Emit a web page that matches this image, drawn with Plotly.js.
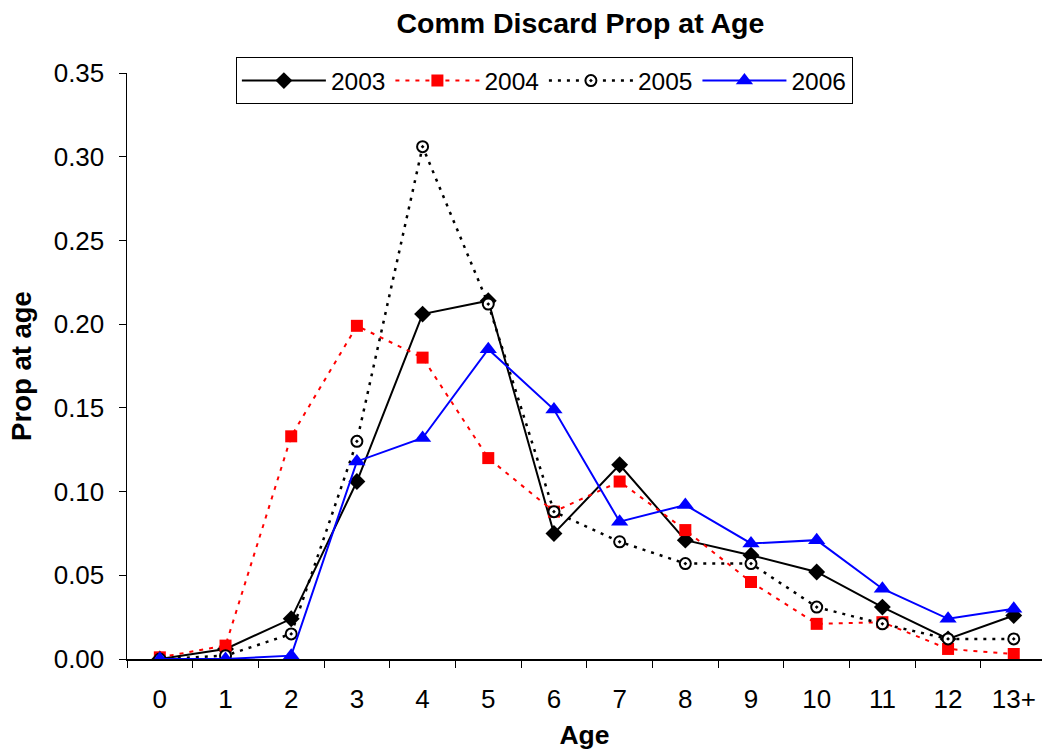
<!DOCTYPE html>
<html>
<head>
<meta charset="utf-8">
<script src="https://cdn.plot.ly/plotly-3.0.1.min.js"></script>
<style>html,body{margin:0;padding:0;background:#fff;}#chart{width:1042px;height:753px;}</style>
</head>
<body>
<div id="chart"></div>
<script>
const ages = ["0","1","2","3","4","5","6","7","8","9","10","11","12","13+"];
const s2003 = [0.000, 0.006, 0.024, 0.106, 0.206, 0.214, 0.075, 0.116, 0.071, 0.062, 0.052, 0.031, 0.012, 0.026];
const s2004 = [0.001, 0.008, 0.133, 0.199, 0.180, 0.120, 0.088, 0.106, 0.077, 0.046, 0.021, 0.022, 0.006, 0.003];
const s2005 = [0.000, 0.002, 0.015, 0.130, 0.306, 0.212, 0.088, 0.070, 0.057, 0.057, 0.031, 0.021, 0.012, 0.012];
const s2006 = [0.000, 0.000, 0.002, 0.118, 0.132, 0.185, 0.149, 0.082, 0.092, 0.069, 0.071, 0.042, 0.024, 0.030];
const seriesNames = ["2003", "2004", "2005", "2006"];

const FONT = "Liberation Sans, Arial, sans-serif";
const traces = [
  {x: ages, y: s2003, name: seriesNames[0], type: "scatter", mode: "lines+markers",
   line: {color: "#000000", width: 2, dash: "solid"},
   marker: {symbol: "diamond", size: 13, color: "#000000"}},
  {x: ages, y: s2004, name: seriesNames[1], type: "scatter", mode: "lines+markers",
   line: {color: "#ff0000", width: 2, dash: "4px,6px"},
   marker: {symbol: "square", size: 12, color: "#ff0000"}},
  {x: ages, y: s2005, name: seriesNames[2], type: "scatter", mode: "lines+markers",
   line: {color: "#000000", width: 2.5, dash: "3px,6px"},
   marker: {symbol: "circle-dot", size: 11, color: "#ffffff", line: {color: "#000000", width: 2}}},
  {x: ages, y: s2006, name: seriesNames[3], type: "scatter", mode: "lines+markers",
   line: {color: "#0000ff", width: 2, dash: "solid"},
   marker: {symbol: "triangle-up", size: 15, color: "#0000ff"}}
];

const layout = {
  width: 1042, height: 753,
  paper_bgcolor: "#ffffff", plot_bgcolor: "#ffffff",
  margin: {l: 127, r: 0, t: 73, b: 94, pad: 0},
  font: {family: FONT, size: 24, color: "#000000"},
  title: {text: "<b>Comm Discard Prop at Age</b>", font: {family: FONT, size: 28.5, color: "#000"},
          x: 0.557, xanchor: "center", y: 0.97, yanchor: "middle"},
  showlegend: true,
  legend: {orientation: "h", x: 0.119, xanchor: "left", y: 1.027, yanchor: "top",
           bgcolor: "#ffffff", bordercolor: "#000000", borderwidth: 1,
           font: {family: FONT, size: 24.5, color: "#000"}, itemwidth: 84,
           traceorder: "normal", tracegroupgap: 0},
  xaxis: {type: "category", range: [-0.5, 13.43], showgrid: false, zeroline: false,
          showline: true, linecolor: "#000", linewidth: 1.5,
          ticks: "outside", tickson: "boundaries", ticklen: 7, tickcolor: "#000", tickwidth: 1,
          tickfont: {family: FONT, size: 26}, ticklabelstandoff: 16,
          title: {text: "<b>Age</b>", font: {family: FONT, size: 26.5}, standoff: 12}},
  yaxis: {range: [0, 0.35], dtick: 0.05, tickformat: ".2f", showgrid: false, zeroline: false,
          showline: true, linecolor: "#000", linewidth: 1.5,
          ticks: "outside", ticklen: 7, tickcolor: "#000", tickwidth: 1,
          tickfont: {family: FONT, size: 26}, ticklabelstandoff: 9,
          title: {text: "<b>Prop at age</b>", font: {family: FONT, size: 27.5}, standoff: 14}}
};

Plotly.newPlot("chart", traces, layout, {displayModeBar: false, staticPlot: true});
</script>
</body>
</html>
